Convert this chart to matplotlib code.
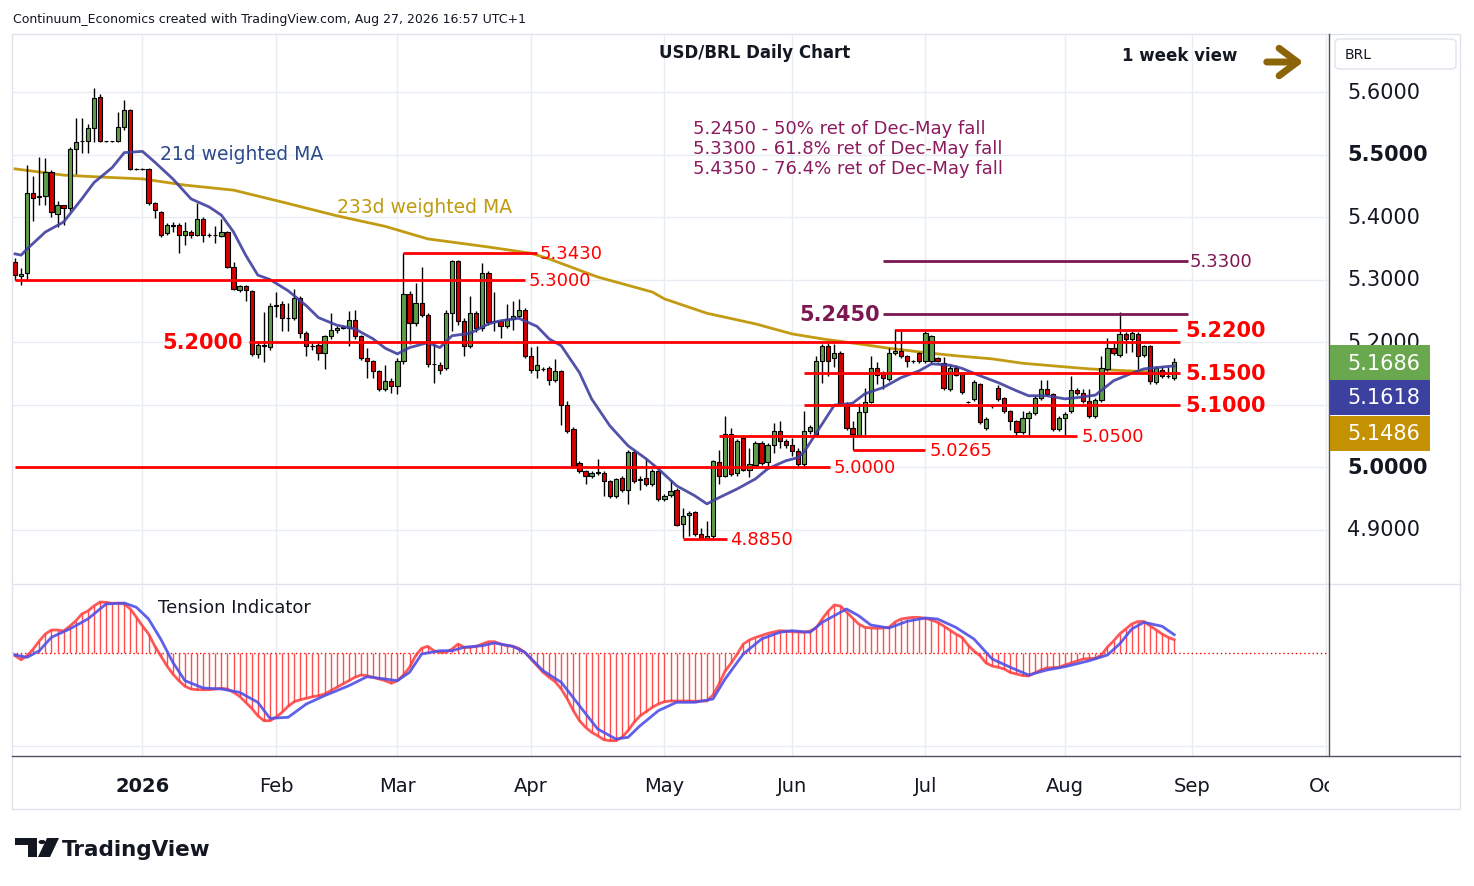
import numpy as np
import pandas as pd
import matplotlib
matplotlib.use("Agg")
import matplotlib.pyplot as plt
from matplotlib.patches import Rectangle, FancyBboxPatch, Polygon, Circle, FancyArrowPatch

##Data: daily USD/BRL bars, Dec 2 2025 .. Aug 27 2026 (no Dec 25 bar)
dates = pd.bdate_range("2025-12-02", "2026-08-27")
dates = dates[dates != pd.Timestamp("2025-12-25")]
future = pd.bdate_range("2026-08-28", "2026-10-30")

opens = [5.328, 5.306, 5.310, 5.438, 5.432, 5.433, 5.472, 5.405, 5.419, 5.414,
         5.509, 5.521, 5.522, 5.542, 5.592, 5.521, 5.521, 5.521, 5.544, 5.572,
         5.477, 5.477, 5.477, 5.422, 5.408, 5.375, 5.386, 5.387, 5.371, 5.376,
         5.372, 5.397, 5.371, 5.371, 5.370, 5.376, 5.320, 5.283, 5.290, 5.282,
         5.181, 5.195, 5.192, 5.257, 5.261, 5.238, 5.238, 5.271, 5.215, 5.193,
         5.196, 5.182, 5.210, 5.219, 5.223, 5.222, 5.235, 5.209, 5.175, 5.170,
         5.153, 5.125, 5.138, 5.129, 5.170, 5.277, 5.230, 5.263, 5.243, 5.165,
         5.163, 5.158, 5.247, 5.329, 5.234, 5.193, 5.247, 5.222, 5.311, 5.233,
         5.233, 5.225, 5.237, 5.241, 5.251, 5.177, 5.155, 5.157, 5.158, 5.139,
         5.153, 5.100, 5.061, 5.006, 4.994, 4.985, 4.992, 4.990, 4.978, 4.953,
         4.982, 4.964, 5.024, 4.979, 4.982, 4.973, 4.993, 4.949, 4.955, 4.964,
         4.909, 4.923, 4.928, 4.893, 4.887, 4.889, 5.008, 4.986, 5.053, 4.990,
         5.047, 4.996, 5.004, 5.039, 5.008, 5.035, 5.058, 5.042, 5.035, 5.026,
         5.005, 5.058, 5.053, 5.170, 5.193, 5.175, 5.182, 5.101, 5.062, 5.052,
         5.088, 5.104, 5.158, 5.150, 5.141, 5.182, 5.185, 5.178, 5.169, 5.182,
         5.169, 5.169, 5.174, 5.167, 5.125, 5.159, 5.150, 5.104, 5.109, 5.133,
         5.062, 5.097, 5.126, 5.110, 5.089, 5.073, 5.056, 5.079, 5.086, 5.111,
         5.125, 5.117, 5.061, 5.078, 5.089, 5.123, 5.119, 5.106, 5.082, 5.107,
         5.157, 5.190, 5.179, 5.213, 5.205, 5.213, 5.179, 5.193, 5.136, 5.156,
         5.145, 5.143]
highs = [5.335, 5.318, 5.483, 5.466, 5.496, 5.495, 5.475, 5.425, 5.420, 5.512,
         5.558, 5.558, 5.549, 5.606, 5.597, 5.522, 5.522, 5.568, 5.587, 5.573,
         5.478, 5.478, 5.478, 5.424, 5.410, 5.390, 5.392, 5.390, 5.392, 5.380,
         5.423, 5.400, 5.374, 5.385, 5.397, 5.378, 5.328, 5.292, 5.292, 5.283,
         5.200, 5.248, 5.262, 5.280, 5.266, 5.263, 5.285, 5.273, 5.218, 5.199,
         5.202, 5.212, 5.247, 5.226, 5.225, 5.250, 5.252, 5.212, 5.191, 5.172,
         5.155, 5.163, 5.142, 5.175, 5.342, 5.282, 5.295, 5.320, 5.246, 5.200,
         5.168, 5.252, 5.331, 5.331, 5.238, 5.273, 5.250, 5.326, 5.314, 5.280,
         5.236, 5.261, 5.266, 5.269, 5.254, 5.192, 5.194, 5.160, 5.162, 5.173,
         5.156, 5.105, 5.064, 5.010, 4.996, 4.994, 5.013, 4.993, 4.980, 4.983,
         4.986, 5.028, 5.027, 4.985, 5.013, 4.997, 4.995, 4.957, 4.980, 4.966,
         4.934, 4.930, 4.930, 4.903, 4.914, 5.011, 5.028, 5.081, 5.063, 5.045,
         5.050, 5.030, 5.042, 5.042, 5.038, 5.070, 5.074, 5.045, 5.046, 5.030,
         5.090, 5.067, 5.178, 5.197, 5.198, 5.197, 5.185, 5.104, 5.074, 5.102,
         5.127, 5.178, 5.168, 5.153, 5.191, 5.221, 5.218, 5.180, 5.172, 5.184,
         5.217, 5.212, 5.176, 5.176, 5.164, 5.164, 5.152, 5.106, 5.140, 5.135,
         5.080, 5.099, 5.132, 5.112, 5.091, 5.075, 5.090, 5.089, 5.114, 5.140,
         5.140, 5.119, 5.081, 5.088, 5.146, 5.126, 5.125, 5.125, 5.110, 5.178,
         5.207, 5.199, 5.248, 5.216, 5.218, 5.216, 5.196, 5.196, 5.161, 5.161,
         5.160, 5.175]
lows = [5.300, 5.292, 5.300, 5.393, 5.420, 5.420, 5.400, 5.384, 5.388, 5.410,
        5.469, 5.502, 5.502, 5.520, 5.520, 5.520, 5.520, 5.520, 5.540, 5.476,
        5.476, 5.476, 5.420, 5.398, 5.368, 5.372, 5.376, 5.342, 5.355, 5.366,
        5.370, 5.360, 5.368, 5.358, 5.368, 5.318, 5.283, 5.280, 5.265, 5.178,
        5.175, 5.168, 5.188, 5.240, 5.218, 5.218, 5.235, 5.207, 5.178, 5.187,
        5.172, 5.157, 5.205, 5.215, 5.221, 5.194, 5.205, 5.172, 5.142, 5.142,
        5.122, 5.122, 5.118, 5.117, 5.165, 5.197, 5.226, 5.240, 5.160, 5.134,
        5.149, 5.155, 5.218, 5.228, 5.178, 5.190, 5.216, 5.218, 5.228, 5.218,
        5.206, 5.222, 5.220, 5.238, 5.175, 5.150, 5.142, 5.154, 5.132, 5.136,
        5.067, 5.055, 4.999, 4.990, 4.973, 4.982, 4.988, 4.953, 4.950, 4.950,
        4.960, 4.941, 4.975, 4.964, 4.970, 4.970, 4.946, 4.946, 4.952, 4.905,
        4.886, 4.890, 4.890, 4.885, 4.885, 4.886, 4.973, 4.984, 4.986, 4.985,
        4.993, 4.984, 5.001, 5.004, 4.998, 5.022, 5.030, 5.030, 5.018, 5.000,
        5.002, 5.053, 5.050, 5.135, 5.145, 5.160, 5.098, 5.060, 5.0265, 5.050,
        5.052, 5.102, 5.133, 5.125, 5.138, 5.180, 5.174, 5.160, 5.166, 5.166,
        5.166, 5.166, 5.168, 5.124, 5.122, 5.145, 5.117, 5.102, 5.106, 5.069,
        5.059, 5.095, 5.106, 5.086, 5.060, 5.050, 5.053, 5.050, 5.083, 5.108,
        5.114, 5.058, 5.058, 5.050, 5.086, 5.116, 5.103, 5.078, 5.079, 5.104,
        5.154, 5.180, 5.176, 5.182, 5.184, 5.157, 5.176, 5.133, 5.133, 5.142,
        5.142, 5.140]
closes = [5.307, 5.309, 5.438, 5.430, 5.434, 5.472, 5.408, 5.420, 5.414, 5.509,
          5.520, 5.522, 5.542, 5.590, 5.521, 5.521, 5.521, 5.544, 5.572, 5.477,
          5.477, 5.477, 5.422, 5.411, 5.371, 5.387, 5.387, 5.371, 5.377, 5.372,
          5.397, 5.371, 5.371, 5.372, 5.376, 5.320, 5.285, 5.290, 5.283, 5.181,
          5.195, 5.193, 5.258, 5.260, 5.238, 5.238, 5.271, 5.215, 5.193, 5.193,
          5.182, 5.210, 5.219, 5.223, 5.223, 5.235, 5.209, 5.175, 5.170, 5.153,
          5.125, 5.137, 5.129, 5.170, 5.277, 5.230, 5.263, 5.243, 5.165, 5.165,
          5.155, 5.247, 5.329, 5.234, 5.193, 5.247, 5.222, 5.311, 5.232, 5.233,
          5.225, 5.237, 5.241, 5.251, 5.177, 5.155, 5.163, 5.157, 5.139, 5.153,
          5.100, 5.058, 5.002, 4.994, 4.986, 4.991, 4.991, 4.978, 4.953, 4.981,
          4.964, 5.024, 4.978, 4.981, 4.973, 4.993, 4.949, 4.954, 4.962, 4.907,
          4.922, 4.927, 4.893, 4.887, 4.890, 5.009, 4.986, 5.053, 4.989, 5.042,
          4.996, 5.005, 5.039, 5.007, 5.035, 5.058, 5.042, 5.035, 5.026, 5.005,
          5.058, 5.064, 5.170, 5.193, 5.170, 5.182, 5.101, 5.062, 5.053, 5.088,
          5.104, 5.158, 5.148, 5.142, 5.182, 5.185, 5.177, 5.169, 5.169, 5.169,
          5.215, 5.210, 5.170, 5.127, 5.158, 5.148, 5.120, 5.104, 5.136, 5.072,
          5.077, 5.097, 5.109, 5.089, 5.073, 5.056, 5.078, 5.086, 5.111, 5.125,
          5.117, 5.061, 5.078, 5.085, 5.123, 5.119, 5.106, 5.081, 5.107, 5.158,
          5.190, 5.183, 5.213, 5.205, 5.214, 5.178, 5.193, 5.138, 5.158, 5.145,
          5.145, 5.1686]

##21d and 233d weighted moving averages (read at sample bars)
ma21_idx = [0, 1, 2, 5, 8, 11, 13, 16, 18, 21, 23, 26, 29, 32, 34, 36, 38, 40, 42, 45,
            48, 50, 53, 56, 59, 61, 63, 65, 68, 70, 72, 75, 78, 80, 83, 86, 88, 90, 93, 95,
            98, 101, 104, 106, 109, 112, 114, 116, 119, 122, 124, 127, 129, 130, 133, 135,
            138, 140, 143, 146, 149, 151, 154, 156, 159, 162, 165, 167, 170, 173, 175, 178,
            181, 184, 186, 188, 191]
ma21 = [5.341, 5.339, 5.349, 5.376, 5.392, 5.429, 5.455, 5.479, 5.503, 5.505, 5.488, 5.461,
        5.429, 5.416, 5.403, 5.376, 5.339, 5.307, 5.300, 5.282, 5.258, 5.239, 5.227, 5.221,
        5.205, 5.190, 5.181, 5.191, 5.199, 5.191, 5.210, 5.214, 5.229, 5.234, 5.238, 5.225,
        5.205, 5.194, 5.151, 5.109, 5.066, 5.034, 5.013, 4.997, 4.970, 4.954, 4.941, 4.951,
        4.965, 4.981, 4.997, 5.010, 5.015, 5.024, 5.069, 5.099, 5.102, 5.117, 5.127, 5.143,
        5.154, 5.165, 5.163, 5.158, 5.146, 5.135, 5.122, 5.114, 5.114, 5.109, 5.111, 5.115,
        5.138, 5.150, 5.157, 5.159, 5.1618]
ma233_idx = [0, 8, 14, 21, 28, 36, 44, 53, 61, 68, 78, 85, 88, 96, 105, 107, 114, 122, 128,
             133, 139, 144, 150, 155, 161, 166, 172, 177, 183, 188, 191]
ma233 = [5.477, 5.467, 5.464, 5.461, 5.451, 5.443, 5.424, 5.402, 5.385, 5.365, 5.352, 5.342,
         5.333, 5.304, 5.280, 5.269, 5.246, 5.229, 5.213, 5.205, 5.197, 5.190, 5.183, 5.178,
         5.173, 5.166, 5.161, 5.157, 5.154, 5.152, 5.1486]

##Tension indicator (arbitrary units) and its signal line
tension = [-2.7, -6.7, -2.7, 4, 12, 19, 23, 23, 22, 26.7,
           32, 39, 42, 47, 51, 50.7, 49.7, 50, 49, 44,
           35.7, 27, 19, 7.3, -2.7, -12.7, -21, -27.7, -33.3, -36,
           -36.7, -36.7, -36.7, -36, -35.3, -36, -39.3, -43.3, -49.3, -55.3,
           -62.7, -67.7, -67.7, -64.3, -59.3, -53.3, -48.7, -46.7, -45.3, -43.7,
           -42.7, -41, -37.7, -34.3, -31, -27.7, -24.3, -22, -22.7, -24.3,
           -26, -27.7, -30.3, -27.7, -22, -14.3, -2.7, 4.7, 6.7, 2.3,
           0.7, 0.7, 4, 9, 5.7, 5.7, 6.7, 9, 11.3, 11.3,
           9, 7.3, 6.7, 4.7, 0.7, -6, -12.7, -19.3, -24.3, -28.7,
           -36, -46, -57.7, -67.7, -74.3, -79.3, -82.7, -86.7, -87.7, -87.7,
           -84.3, -77.7, -69.3, -62.7, -58.7, -54.3, -51, -48.7, -48, -48,
           -48, -48, -48.3, -48, -48, -42, -31, -18, -10, -1,
           9, 13, 15.5, 17.5, 19.5, 21, 22.3, 22, 21.3, 21,
           20.7, 22, 25, 34, 42, 48, 47, 41, 35, 29,
           25.7, 25, 24.7, 25, 25.7, 31, 34, 35, 35.7, 35.5,
           34.7, 33, 30.7, 27, 23, 19, 15.7, 8, 2, -2.7,
           -10, -13, -14.3, -16, -19.5, -21, -22.5, -23, -20, -17,
           -15, -14.6, -14.3, -12, -10, -8, -6, -5.5, -5.3, -2,
           6, 12, 19, 24, 29, 31.5, 31.5, 27.3, 23, 19,
           15.7, 13.3]
signal_idx = [0, 2, 4, 6, 9, 12, 15, 18, 20, 22, 24, 26, 28, 31, 34, 37, 40, 42, 45, 48,
              51, 55, 58, 61, 63, 65, 67, 70, 72, 74, 77, 79, 82, 84, 87, 90, 93, 96, 99, 101,
              103, 106, 109, 112, 115, 117, 120, 123, 126, 128, 131, 133, 137, 139, 141, 144,
              147, 150, 152, 155, 158, 161, 164, 167, 170, 173, 177, 180, 182, 184, 186, 189, 191]
signal = [-2, -4.3, 2.3, 15.7, 24, 34, 49, 50, 45.7, 34, 14, -9.3, -27.7, -35, -36, -39.3,
          -49.3, -65.3, -64.3, -51, -42.7, -32.7, -23.7, -26, -27.7, -19.3, -1, 2.3, 2.3, 5.7,
          7.3, 10, 6.7, 0.7, -17.7, -29.3, -52.7, -76, -86, -84.3, -72.7, -57.7, -49.3, -49.3,
          -46, -26, -1, 14, 20.7, 22.3, 20.7, 30.7, 44, 37.3, 28, 25, 31.7, 35, 34, 25.7, 14,
          -6, -14.3, -22, -17, -13.7, -7.7, -2, 9, 24, 30.7, 26.7, 18.3]

##Support / resistance levels
red_levels = [5.3430, 5.3000, 5.2000, 5.2200, 5.1500, 5.1000, 5.0500, 5.0265, 5.0000, 4.8850]
purple_levels = [5.2450, 5.3300]
fib_notes = ["5.2450 - 50% ret of Dec-May fall",
             "5.3300 - 61.8% ret of Dec-May fall",
             "5.4350 - 76.4% ret of Dec-May fall"]
price_ticks = [5.6, 5.5, 5.4, 5.3, 5.2, 5.1, 5.0, 4.9]
last_close = closes[-1]
last_ma21 = ma21[-1]
last_ma233 = ma233[-1]

##Figure layout (pixel helpers)
W, H = 1474, 887
def fx(px):
    return px / W
def fy(py):
    return 1 - py / H

GREEN = '#5f9e48'
RED = '#d40000'
MA21_C = '#3f3f9f'
MA233_C = '#c39b12'
PURPLE = '#7d1752'
GRID = '#e8edf3'
BORDER = '#e0e3eb'

fig = plt.figure(figsize=(W / 100, H / 100), dpi=100)
fig.patch.set_facecolor('white')

ax = fig.add_axes([fx(12), fy(585), fx(1329) - fx(12), fy(35) - fy(585)])
axi = fig.add_axes([fx(12), fy(757), fx(1329) - fx(12), fy(587) - fy(757)])
axt = fig.add_axes([fx(12), fy(810), fx(1329) - fx(12), fy(757) - fy(810)])
for a in (ax, axi, axt):
    a.set_xlim(-0.5, 216.5)
    for s in a.spines.values():
        s.set_visible(False)
    a.set_xticks([])
    a.set_yticks([])
ax.set_ylim(4.8128, 5.6928)
axi.set_ylim(-103, 67)
axt.set_ylim(0, 1)

##Month ticks
alld = dates.append(future)
tick_pos, tick_lab = [], []
for m in range(1, 11):
    pos = np.where((alld.year == 2026) & (alld.month == m))[0][0]
    tick_pos.append(pos)
    tick_lab.append("2026" if m == 1 else alld[pos].strftime("%b"))

for p in price_ticks:
    ax.axhline(p, color=GRID, lw=1, zorder=0)
for t in tick_pos:
    ax.axvline(t, color=GRID, lw=1, zorder=0)
    axi.axvline(t, color=GRID, lw=1, zorder=0)
for t, lab in zip(tick_pos, tick_lab):
    axt.text(t, 0.45, lab, ha='center', va='center', fontsize=14,
             fontweight='bold' if lab == "2026" else 'normal', color='#131722', clip_on=True)

##Candles
o = np.array(opens); h = np.array(highs); l = np.array(lows); c = np.array(closes)
x = np.arange(len(c))
up = c >= o
ax.vlines(x, l, h, color='black', lw=1, zorder=3)
ax.bar(x, np.maximum(np.abs(c - o), 0.0006), bottom=np.minimum(o, c), width=0.7,
       color=np.where(up, GREEN, RED), edgecolor='black', linewidth=0.8, zorder=4)

##Moving averages
ax.plot(ma233_idx, ma233, color=MA233_C, lw=2, zorder=2)
ax.plot(ma21_idx, ma21, color=MA21_C, lw=2, alpha=0.9, zorder=5)

##Level lines
red_spans = [(64, 86), (0, 84), (38.5, 192), (145, 191.5), (130, 192), (130, 192),
             (116, 175), (138, 150), (0, 134.3), (110, 117.3)]
for lev, (a0, a1) in zip(red_levels, red_spans):
    ax.hlines(lev, a0, a1, color='#ff0000', lw=2, zorder=6)
for lev in purple_levels:
    ax.hlines(lev, 143, 193.2, color=PURPLE, lw=2, zorder=6)

big = dict(fontsize=15, fontweight='bold', color='#ff0000', va='center', zorder=7)
small = dict(fontsize=13, color='#ff0000', va='center', zorder=7)
ax.text(86.5, red_levels[0], "5.3430", **small)
ax.text(84.6, red_levels[1], "5.3000", **small)
ax.text(37.6, red_levels[2], "5.2000", ha='right', **big)
ax.text(192.8, red_levels[3], "5.2200", **big)
ax.text(192.8, red_levels[4], "5.1500", **big)
ax.text(192.8, red_levels[5], "5.1000", **big)
ax.text(175.8, red_levels[6], "5.0500", **small)
ax.text(150.7, red_levels[7], "5.0265", **small)
ax.text(134.8, red_levels[8], "5.0000", **small)
ax.text(117.8, red_levels[9], "4.8850", **small)
ax.text(142.5, purple_levels[0], "5.2450", ha='right', va='center', fontsize=15,
        fontweight='bold', color=PURPLE, zorder=7)
ax.text(193.6, purple_levels[1], "5.3300", va='center', fontsize=13, color=PURPLE, zorder=7)

##Tension indicator
axi.axhline(0, color='#ff0000', lw=1, ls=(0, (1, 2)), zorder=1)
axi.axhline(-93, color=GRID, lw=1, zorder=0)
axi.vlines(x, 0, tension, color='#ff4d4d', lw=1, zorder=2)
axi.plot(x, tension, color='#ff3b3b', lw=2, alpha=0.85, zorder=3)
axi.plot(signal_idx, signal, color='#4f4fe8', lw=2, alpha=0.9, zorder=4)

##Texts
fig.text(fx(13), fy(19), "Continuum_Economics created with TradingView.com, Aug 27, 2026 16:57 UTC+1",
         fontsize=9, va='center', color='#131722')
fig.text(fx(755), fy(53), "USD/BRL Daily Chart", fontsize=12, fontweight='bold', ha='center',
         va='center', color='#131722')
fig.text(fx(1122), fy(56), "1 week view", fontsize=12, fontweight='bold', va='center', color='#131722')
fig.add_artist(FancyArrowPatch((fx(1264), fy(63)), (fx(1306), fy(63)), transform=fig.transFigure,
                               arrowstyle='->,head_length=0.6,head_width=0.45', mutation_scale=22,
                               lw=5, color='#8b6508', capstyle='round', joinstyle='round'))
for k, note in enumerate(fib_notes):
    fig.text(fx(693), fy(129 + 20 * k), note, fontsize=13, va='center', color='#8b1a5e')
fig.text(fx(160), fy(154), "21d weighted MA", fontsize=13.5, va='center', color='#2c4a8c')
fig.text(fx(337), fy(208), "233d weighted MA", fontsize=13.5, va='center', color='#c09a10')
fig.text(fx(158), fy(608), "Tension Indicator", fontsize=13, va='center', color='#131722')

##Price axis (5.1000 sits fully under the value boxes, as in the source)
for p in price_ticks:
    if p == 5.1:
        continue
    py = 93 + (5.6 - p) * 625
    fig.text(fx(1347), fy(py), "%.4f" % p, fontsize=15, va='center', color='#131722',
             fontweight='bold' if p in (5.5, 5.0) else 'normal', zorder=3)
boxes = [(last_close, '#6aa84f', 363.5), (last_ma21, '#3c41a0', 398.5), (last_ma233, '#c49102', 434)]
for val, col, cy in boxes:
    fig.add_artist(Rectangle((fx(1330), fy(cy + 17.5)), fx(100), 35 / H, transform=fig.transFigure,
                             facecolor=col, edgecolor='none', zorder=4))
    fig.text(fx(1347), fy(cy), "%.4f" % val, fontsize=15, va='center', color='white', zorder=5)
fig.add_artist(FancyBboxPatch((fx(1335), fy(70)), fx(121), 30 / H, boxstyle='round,pad=0,rounding_size=0.004',
                              transform=fig.transFigure, facecolor='white', edgecolor=BORDER, lw=1))
fig.text(fx(1345), fy(55), "BRL", fontsize=10, va='center', color='#131722')

##Frame lines
fig.add_artist(Rectangle((fx(12), fy(810)), fx(1460) - fx(12), fy(35) - fy(810), transform=fig.transFigure,
                         fill=False, edgecolor=BORDER, lw=1))
fig.add_artist(plt.Line2D([fx(12), fx(1460)], [fy(585), fy(585)], transform=fig.transFigure,
                          color=BORDER, lw=1))
fig.add_artist(plt.Line2D([fx(1329), fx(1329)], [fy(35), fy(757)], transform=fig.transFigure,
                          color='#50535e', lw=1))
fig.add_artist(plt.Line2D([fx(12), fx(1460)], [fy(757), fy(757)], transform=fig.transFigure,
                          color='#50535e', lw=1))

##TradingView logo
fig.add_artist(Polygon([(fx(15), fy(839)), (fx(37), fy(839)), (fx(37), fy(858)), (fx(28), fy(858)),
                        (fx(28), fy(846)), (fx(15), fy(846))], closed=True, transform=fig.transFigure,
                       facecolor='#131722', edgecolor='none'))
fig.add_artist(Circle((fx(42), fy(843)), 3.5 / W, transform=fig.transFigure, facecolor='#131722'))
fig.add_artist(Polygon([(fx(47), fy(839)), (fx(59), fy(839)), (fx(50), fy(858)), (fx(38), fy(858))],
                       closed=True, transform=fig.transFigure, facecolor='#131722', edgecolor='none'))
fig.text(fx(62), fy(850), "TradingView", fontsize=15.5, fontweight='bold', va='center', color='#131722')

fig.savefig("out.png", dpi=100)
